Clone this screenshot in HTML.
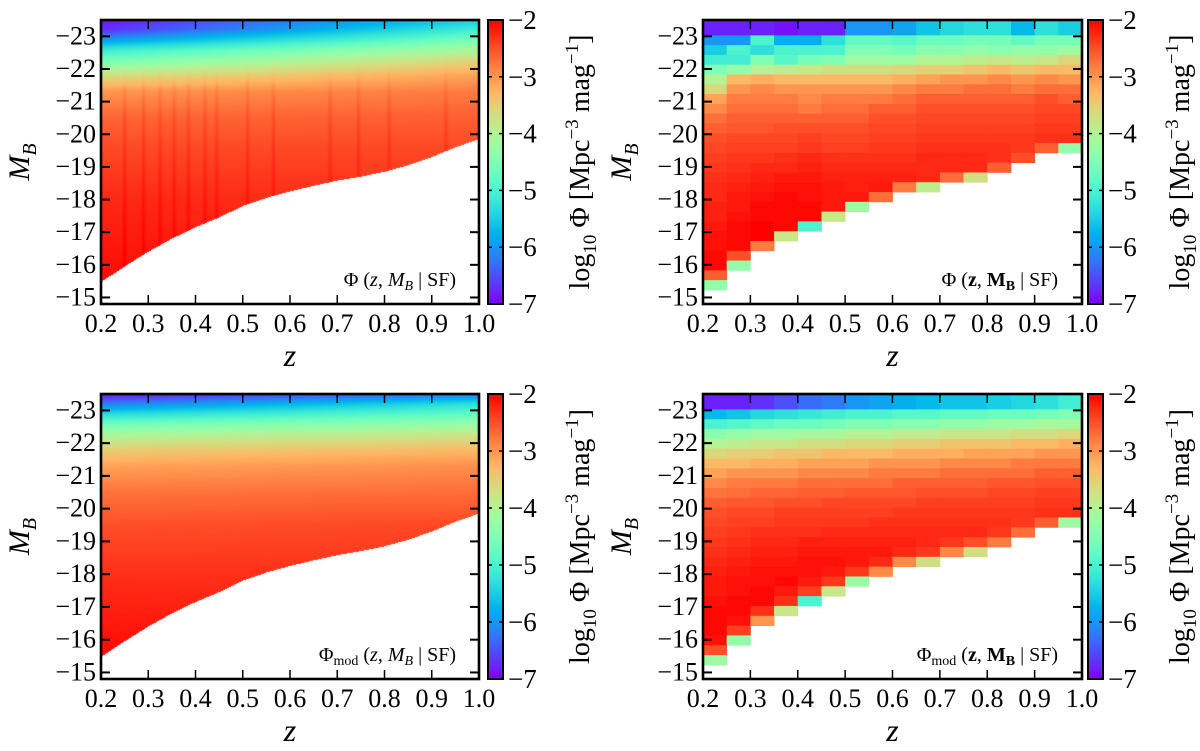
<!DOCTYPE html>
<html><head><meta charset="utf-8">
<style>
html,body{margin:0;padding:0;background:#fff;}
#wrap{position:relative;width:1200px;height:751px;overflow:hidden;background:#fff;}
canvas{position:absolute;}
svg{position:absolute;left:0;top:0;}
text{font-family:"Liberation Serif",serif;fill:#000;}
</style></head>
<body>
<div id="wrap">
<canvas id="cTL"></canvas>
<canvas id="cBL"></canvas>
<svg id="svg" width="1200" height="751" xmlns="http://www.w3.org/2000/svg"></svg>
</div>
<script>
// ---------- data ----------
const zTicks = [0.2,0.3,0.4,0.5,0.6,0.7,0.8,0.9,1.0];
const zTickLabels = ["0.2","0.3","0.4","0.5","0.6","0.7","0.8","0.9","1.0"];
const mTicks = [-23,-22,-21,-20,-19,-18,-17,-16,-15];
const mTickLabels = ["\u221223","\u221222","\u221221","\u221220","\u221219","\u221218","\u221217","\u221216","\u221215"];
const cbTicks = [-2,-3,-4,-5,-6,-7];
const cbTickLabels = ["\u22122","\u22123","\u22124","\u22125","\u22126","\u22127"];

const zEdges = [0.2,0.25,0.3,0.35,0.4,0.45,0.5,0.55,0.6,0.65,0.7,0.75,0.8,0.85,0.9,0.95,1.0];
const mBinEdges = [-15.23,-15.53,-15.83,-16.13,-16.43,-16.73,-17.03,-17.33,-17.63,-17.93,-18.23,-18.53,-18.83,-19.13,-19.43,-19.73,-20.03,-20.33,-20.63,-20.93,-21.23,-21.53,-21.83,-22.13,-22.43,-22.73,-23.03,-23.5];

const obsBinned = [
[-6.8,-6.8,-6.8,-6.9,-6.8,-6.8,-6.0,-6.0,-5.9,-5.6,-5.4,-5.3,-5.3,-5.7,-5.3,-5.5],
[-6.0,-6.0,-5.0,-5.8,-5.8,-5.3,-4.8,-4.8,-4.9,-4.7,-4.7,-4.6,-4.6,-4.8,-4.6,-4.6],
[-5.5,-5.0,-5.3,-5.0,-5.0,-5.0,-4.5,-4.5,-4.6,-4.4,-4.4,-4.3,-4.4,-4.3,-4.3,-4.2],
[-5.1,-5.1,-4.5,-4.9,-4.6,-4.5,-4.2,-4.2,-4.2,-4.0,-4.0,-3.9,-3.8,-3.9,-3.8,-3.6],
[-4.5,-4.3,-4.0,-3.9,-3.8,-3.7,-3.7,-3.7,-3.6,-3.5,-3.5,-3.4,-3.3,-3.4,-3.3,-3.3],
[-4.0,-3.3,-3.2,-3.3,-3.3,-3.3,-3.3,-3.3,-3.2,-3.1,-3.0,-3.0,-2.9,-3.0,-2.9,-3.0],
[-3.6,-3.0,-2.9,-3.0,-3.0,-3.0,-3.0,-3.0,-2.9,-2.8,-2.8,-2.7,-2.7,-2.8,-2.7,-2.7],
[-3.1,-2.8,-2.8,-2.8,-2.9,-2.8,-2.8,-2.8,-2.7,-2.6,-2.6,-2.6,-2.6,-2.6,-2.5,-2.6],
[-2.9,-2.7,-2.7,-2.7,-2.8,-2.7,-2.7,-2.6,-2.6,-2.5,-2.5,-2.5,-2.5,-2.5,-2.45,-2.45],
[-2.7,-2.6,-2.6,-2.6,-2.6,-2.6,-2.6,-2.5,-2.5,-2.45,-2.45,-2.45,-2.45,-2.45,-2.4,-2.4],
[-2.6,-2.55,-2.55,-2.5,-2.5,-2.5,-2.5,-2.45,-2.45,-2.4,-2.4,-2.4,-2.4,-2.4,-2.35,-2.35],
[-2.5,-2.45,-2.45,-2.45,-2.4,-2.45,-2.45,-2.4,-2.4,-2.35,-2.35,-2.35,-2.35,-2.35,-2.3,-2.3],
[-2.45,-2.4,-2.4,-2.4,-2.35,-2.4,-2.4,-2.35,-2.35,-2.3,-2.3,-2.3,-2.3,-2.35,-2.6,-4.3],
[-2.4,-2.35,-2.35,-2.3,-2.25,-2.3,-2.3,-2.3,-2.3,-2.25,-2.25,-2.25,-2.3,-2.5],
[-2.35,-2.3,-2.25,-2.25,-2.2,-2.25,-2.25,-2.25,-2.25,-2.25,-2.25,-2.25,-2.6],
[-2.3,-2.25,-2.2,-2.15,-2.15,-2.2,-2.2,-2.2,-2.2,-2.25,-2.7,-3.7],
[-2.25,-2.2,-2.15,-2.1,-2.1,-2.15,-2.2,-2.15,-2.8,-3.9],
[-2.25,-2.15,-2.1,-2.05,-2.1,-2.15,-2.15,-2.7],
[-2.2,-2.15,-2.05,-2.05,-2.05,-2.15,-4.2],
[-2.2,-2.1,-2.05,-2.05,-2.05,-3.8],
[-2.15,-2.05,-2.0,-2.05,-5.0],
[-2.1,-2.05,-2.0,-3.8],
[-2.1,-2.05,-2.8],
[-2.05,-2.5],
[-2.05,-4.3],
[-2.6],
[-4.3]
];

const modBinned = [
[-6.8,-6.8,-6.7,-6.5,-6.3,-6.2,-6.0,-5.9,-5.8,-5.7,-5.6,-5.6,-5.5,-5.4,-5.3,-5.1],
[-5.7,-5.6,-5.4,-5.3,-5.2,-5.1,-5.0,-5.0,-4.9,-4.9,-4.8,-4.8,-4.7,-4.7,-4.6,-4.5],
[-5.0,-4.9,-4.8,-4.7,-4.7,-4.6,-4.5,-4.5,-4.4,-4.4,-4.3,-4.3,-4.2,-4.2,-4.1,-4.1],
[-4.4,-4.3,-4.2,-4.2,-4.1,-4.1,-4.0,-4.0,-3.9,-3.9,-3.8,-3.8,-3.8,-3.7,-3.7,-3.6],
[-4.0,-3.9,-3.8,-3.8,-3.7,-3.7,-3.6,-3.6,-3.5,-3.5,-3.4,-3.4,-3.4,-3.3,-3.3,-3.2],
[-3.6,-3.5,-3.5,-3.4,-3.4,-3.3,-3.3,-3.3,-3.2,-3.2,-3.2,-3.1,-3.1,-3.1,-3.0,-3.0],
[-3.3,-3.3,-3.2,-3.2,-3.1,-3.1,-3.1,-3.0,-3.0,-3.0,-2.9,-2.9,-2.9,-2.8,-2.8,-2.8],
[-3.1,-3.0,-3.0,-3.0,-2.9,-2.9,-2.9,-2.8,-2.8,-2.8,-2.7,-2.7,-2.7,-2.7,-2.6,-2.6],
[-2.9,-2.8,-2.8,-2.8,-2.7,-2.7,-2.7,-2.7,-2.6,-2.6,-2.6,-2.6,-2.55,-2.55,-2.5,-2.5],
[-2.75,-2.7,-2.65,-2.65,-2.6,-2.6,-2.55,-2.55,-2.55,-2.5,-2.5,-2.5,-2.45,-2.45,-2.4,-2.4],
[-2.6,-2.55,-2.55,-2.5,-2.5,-2.45,-2.45,-2.45,-2.45,-2.4,-2.4,-2.4,-2.4,-2.4,-2.35,-2.35],
[-2.5,-2.45,-2.45,-2.4,-2.4,-2.4,-2.4,-2.4,-2.35,-2.35,-2.35,-2.35,-2.35,-2.35,-2.3,-2.3],
[-2.45,-2.4,-2.4,-2.35,-2.35,-2.35,-2.35,-2.3,-2.3,-2.3,-2.3,-2.3,-2.3,-2.35,-2.6,-4.2],
[-2.4,-2.35,-2.3,-2.3,-2.3,-2.25,-2.25,-2.25,-2.25,-2.25,-2.25,-2.25,-2.35,-2.7],
[-2.35,-2.3,-2.25,-2.25,-2.2,-2.2,-2.2,-2.2,-2.2,-2.25,-2.35,-2.5,-2.8],
[-2.3,-2.25,-2.2,-2.2,-2.15,-2.15,-2.15,-2.15,-2.25,-2.35,-2.9,-3.7],
[-2.25,-2.2,-2.15,-2.15,-2.1,-2.1,-2.15,-2.25,-2.9,-3.7],
[-2.2,-2.15,-2.1,-2.1,-2.1,-2.15,-2.35,-2.9],
[-2.15,-2.1,-2.1,-2.05,-2.15,-2.35,-4.2],
[-2.15,-2.1,-2.05,-2.15,-2.4,-3.8],
[-2.1,-2.05,-2.05,-2.3,-5.0],
[-2.05,-2.05,-2.3,-3.8],
[-2.05,-2.1,-3.0],
[-2.05,-2.4],
[-2.1,-4.3],
[-2.5],
[-4.2]
];

const limitZ = [0.2,0.25,0.3,0.35,0.4,0.45,0.5,0.55,0.6,0.65,0.7,0.75,0.8,0.85,0.9,0.95,1.0];
const limitM = [-15.47,-15.95,-16.4,-16.8,-17.15,-17.45,-17.8,-18.05,-18.25,-18.42,-18.58,-18.7,-18.85,-19.05,-19.3,-19.6,-19.85];
const profM = [-23.5,-23.2,-22.9,-22.6,-22.2,-21.8,-21.3,-20.5,-19.5,-18,-16,-15];
const obsProfLowZ = [-6.9,-6.7,-6.0,-5.2,-4.5,-3.7,-3.0,-2.65,-2.45,-2.25,-2.1,-2.05];
const obsProfHighZ = [-5.5,-5.1,-4.6,-4.1,-3.5,-3.1,-2.8,-2.6,-2.45,-2.3,-2.2,-2.15];
const modProfLowZ = [-6.9,-6.2,-5.4,-4.7,-4.0,-3.5,-3.1,-2.75,-2.5,-2.3,-2.1,-2.05];
const modProfHighZ = [-6.2,-5.3,-4.8,-4.3,-3.7,-3.3,-2.95,-2.7,-2.45,-2.3,-2.2,-2.1];
const streakZ = [0.25,0.29,0.325,0.355,0.385,0.42,0.445,0.51,0.565,0.685,0.745,0.81,0.93];

// ---------- helpers ----------
const NS = "http://www.w3.org/2000/svg";
const svg = document.getElementById("svg");
const Z0=0.2, Z1=1.0, MTOP=-23.5, MBOT=-14.8;
function cmap(v){
  let x=(v+7)/5; x=Math.max(0,Math.min(1,x));
  const r=Math.min(1,Math.abs(2*x-0.5)), g=Math.sin(Math.PI*x), b=Math.cos(Math.PI*x/2);
  return [Math.round(255*r),Math.round(255*Math.max(0,g)),Math.round(255*Math.max(0,b))];
}
function rgb(v){const c=cmap(v);return "rgb("+c[0]+","+c[1]+","+c[2]+")";}
function el(tag, attrs, parent){
  const e=document.createElementNS(NS,tag);
  for(const k in attrs) e.setAttribute(k,attrs[k]);
  (parent||svg).appendChild(e); return e;
}
function interp(xs, ys, x){
  if(x<=xs[0]) return ys[0];
  for(let i=1;i<xs.length;i++){ if(x<=xs[i]){const t=(x-xs[i-1])/(xs[i]-xs[i-1]);return ys[i-1]+t*(ys[i]-ys[i-1]);} }
  return ys[ys.length-1];
}
function makeAxes(p){
  p.xs = z => p.x0 + (z-Z0)/(Z1-Z0)*p.w;
  p.ys = m => p.y0 + (m-MTOP)/(MBOT-MTOP)*p.h;
  return p;
}
const panels = {
  TL: makeAxes({x0:101,y0:20,w:378,h:284,cb:488}),
  TR: makeAxes({x0:703,y0:20,w:379,h:284,cb:1088}),
  BL: makeAxes({x0:101,y0:394,w:378,h:285,cb:488}),
  BR: makeAxes({x0:703,y0:394,w:379,h:285,cb:1088})
};

function drawContinuous(id, p, lowP, highP, streaks){
  const c=document.getElementById(id);
  c.width=p.w; c.height=p.h; c.style.left=p.x0+"px"; c.style.top=p.y0+"px";
  const ctx=c.getContext("2d");
  const img=ctx.createImageData(p.w,p.h);
  for(let px=0;px<p.w;px++){
    const z=Z0+(px+0.5)/p.w*(Z1-Z0);
    const t=(z-Z0)/(Z1-Z0);
    const lim=interp(limitZ,limitM,z);
    let boost=0;
    if(streaks){ for(const s of streaks){ const d=Math.abs(z-s)*p.w/(Z1-Z0); if(d<3) boost=Math.max(boost,0.15*(1-d/3)); } }
    for(let py=0;py<p.h;py++){
      const m=MTOP+(py+0.5)/p.h*(MBOT-MTOP);
      const i=(py*p.w+px)*4;
      if(m>lim){img.data[i]=255;img.data[i+1]=255;img.data[i+2]=255;img.data[i+3]=255;continue;}
      let v=(1-t)*interp(profM,lowP,m)+t*interp(profM,highP,m);
      if(m>-22.5) v+=boost*Math.min(1,(m+22.5)/1.5);
      const col=cmap(v);
      img.data[i]=col[0];img.data[i+1]=col[1];img.data[i+2]=col[2];img.data[i+3]=255;
    }
  }
  ctx.putImageData(img,0,0);
}
drawContinuous("cTL",panels.TL,obsProfLowZ,obsProfHighZ,streakZ);
drawContinuous("cBL",panels.BL,modProfLowZ,modProfHighZ,null);

function drawBinned(p, rows, name){
  const g=el("g",{});
  
  
  const nRows=mBinEdges.length-1;
  rows.forEach((row,i)=>{
    const k=nRows-1-i;
    row.forEach((v,j)=>{
      if(v===null||v===undefined) return;
      const x1=p.xs(zEdges[j]), x2=p.xs(zEdges[j+1]);
      const yA=p.ys(mBinEdges[k+1]), yB=p.ys(mBinEdges[k]);
      const r=el("rect",{x:x1.toFixed(2),y:yA.toFixed(2),width:(x2-x1+0.4).toFixed(2),height:(yB-yA+0.4).toFixed(2),fill:rgb(v)},g);
      
      
    });
  });
}
drawBinned(panels.TR, obsBinned, "heatmap-observed-binned");
drawBinned(panels.BR, modBinned, "heatmap-model-binned");

const defs=el("defs",{});
const grad=el("linearGradient",{id:"rb",x1:"0",y1:"1",x2:"0",y2:"0"},defs);
for(let s=0;s<=20;s++){ el("stop",{offset:(s/20).toFixed(3),"stop-color":rgb(-7+5*s/20)},grad); }

function txt(x,y,str,attrs,name){
  const t=el("text",Object.assign({x:x,y:y},attrs||{}));
  t.textContent=str;
  
  
  return t;
}
function decorate(key, annotParts, annotX, annotY){
  const p=panels[key];
  const g=el("g",{});
  
  
  zTicks.forEach((z,i)=>{
    const x=p.xs(z);
    el("line",{x1:x,y1:p.y0+p.h,x2:x,y2:p.y0+p.h-9,stroke:"#000","stroke-width":1.5},g);
    el("line",{x1:x,y1:p.y0,x2:x,y2:p.y0+9,stroke:"#000","stroke-width":1.5},g);
    txt(x,p.y0+p.h+28,zTickLabels[i],{"text-anchor":"middle","font-size":"26"},"x-tick-label");
  });
  mTicks.forEach((m,i)=>{
    const y=p.ys(m);
    el("line",{x1:p.x0,y1:y,x2:p.x0+9,y2:y,stroke:"#000","stroke-width":2},g);
    el("line",{x1:p.x0+p.w,y1:y,x2:p.x0+p.w-9,y2:y,stroke:"#000","stroke-width":2},g);
    txt(p.x0-5,y+8,mTickLabels[i],{"text-anchor":"end","font-size":"26"},"y-tick-label");
  });
  const fr=el("rect",{x:p.x0,y:p.y0,width:p.w,height:p.h,fill:"none",stroke:"#000","stroke-width":2.6},g);
  
  
  txt(p.x0+p.w/2,p.y0+p.h+62,"z",{"text-anchor":"middle","font-size":"32","font-style":"italic"},"x-axis-title");
  const yt=el("text",{x:0,y:0,"font-size":"30","text-anchor":"middle",transform:"translate("+(p.x0-72)+","+(p.y0+p.h/2)+") rotate(-90)"});
  
  
  yt.innerHTML='<tspan font-style="italic">M</tspan><tspan font-style="italic" font-size="20" dy="7">B</tspan>';
  const cbw=15;
  const cbr=el("rect",{x:p.cb,y:p.y0,width:cbw,height:p.h,fill:"url(#rb)",stroke:"#000","stroke-width":2});
  
  
  cbTicks.forEach((v,i)=>{
    const y=p.y0+(-2-v)/5*p.h;
    if(i>0&&i<cbTicks.length-1){
      el("line",{x1:p.cb,y1:y,x2:p.cb+4,y2:y,stroke:"#000","stroke-width":1.5});
      el("line",{x1:p.cb+cbw,y1:y,x2:p.cb+cbw-4,y2:y,stroke:"#000","stroke-width":1.5});
    }
    txt(p.cb+cbw+5,y+9,cbTickLabels[i],{"font-size":"27"},"colorbar-tick-label");
  });
  const ct=el("text",{x:0,y:0,"font-size":"28","text-anchor":"middle",transform:"translate("+(p.cb+cbw+86)+","+(p.y0+p.h/2)+") rotate(-90)"});
  
  
  ct.innerHTML='log<tspan font-size="19" dy="7">10</tspan><tspan dy="-7"> \u03A6 [Mpc</tspan><tspan font-size="19" dy="-11">\u22123</tspan><tspan dy="11"> mag</tspan><tspan font-size="19" dy="-11">\u22121</tspan><tspan dy="11">]</tspan>';
  const an=el("text",{x:annotX,y:annotY,"font-size":"20","text-anchor":"end"});
  
  
  an.innerHTML=annotParts;
}
const italicAnn='\u03A6 (<tspan font-style="italic">z</tspan>, <tspan font-style="italic">M</tspan><tspan font-style="italic" font-size="14" dy="4">B</tspan><tspan dy="-4"> | SF)</tspan>';
const boldAnn='\u03A6 (<tspan font-weight="bold">z</tspan>, <tspan font-weight="bold">M</tspan><tspan font-weight="bold" font-size="14" dy="4">B</tspan><tspan dy="-4"> | SF)</tspan>';
const modItalic='\u03A6<tspan font-size="14" dy="4">mod</tspan><tspan dy="-4"> (</tspan><tspan font-style="italic">z</tspan>, <tspan font-style="italic">M</tspan><tspan font-style="italic" font-size="14" dy="4">B</tspan><tspan dy="-4"> | SF)</tspan>';
const modBold='\u03A6<tspan font-size="14" dy="4">mod</tspan><tspan dy="-4"> (</tspan><tspan font-weight="bold">z</tspan>, <tspan font-weight="bold">M</tspan><tspan font-weight="bold" font-size="14" dy="4">B</tspan><tspan dy="-4"> | SF)</tspan>';
decorate("TL",italicAnn,456,286);
decorate("TR",boldAnn,1058,286);
decorate("BL",modItalic,456,661);
decorate("BR",modBold,1058,661);
</script>
</body></html>
